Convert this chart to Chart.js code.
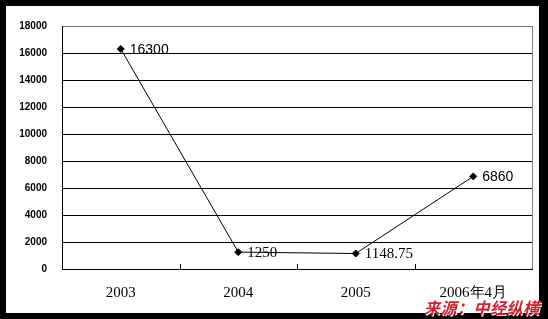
<!DOCTYPE html>
<html>
<head>
<meta charset="utf-8">
<script src="https://cdn.jsdelivr.net/npm/chart.js@4/dist/chart.umd.min.js"></script>
<style>
  body { margin: 0; background: #000; }
  #frame { position: absolute; left: 6px; top: 6px; width: 533px; height: 307px; background: #fff; }
  #wrap { position: absolute; left: 0; top: 0; width: 548px; height: 319px; }
  #source { position: absolute; left: 424px; top: 295px; font: italic bold 16px "Noto Sans CJK SC", sans-serif;
            color: #d3202c; letter-spacing: 0.5px; text-shadow: 1px 1px 0 #fff; white-space: nowrap; }
</style>
</head>
<body>
<div id="frame"></div>
<div id="wrap"><canvas id="chart" width="548" height="319"></canvas></div>
<div id="source">来源：中经纵横</div>
<script>
let years = ['2003', '2004', '2005', '2006年4月'];
let values = [16300, 1250, 1148.75, 6860];
let valueLabels = ['16300', '1250', '1148.75', '6860'];
let labelFonts = ['14px "Liberation Sans"', '15px "Liberation Serif"', '15px "Liberation Serif"', '14px "Liberation Sans"'];
let yTicks = [0, 2000, 4000, 6000, 8000, 10000, 12000, 14000, 16000, 18000];

// value labels next to each point + small inward tick marks + right border
const extras = {
    id: 'extras',
    afterDatasetsDraw(chart) {
        const ctx = chart.ctx;
        const area = chart.chartArea;
        const xs = chart.scales.x;
        ctx.save();
        ctx.strokeStyle = '#808080';
        ctx.lineWidth = 1;
        ctx.beginPath();
        ctx.moveTo(Math.round(area.right) + 0.5, area.top);
        ctx.lineTo(Math.round(area.right) + 0.5, area.bottom);
        ctx.stroke();

        ctx.strokeStyle = '#000';
        for (let i = 1; i < years.length; i++) {
            let x = Math.round((xs.getPixelForTick(i - 1) + xs.getPixelForTick(i)) / 2) + 0.5;
            ctx.beginPath();
            ctx.moveTo(x, area.bottom);
            ctx.lineTo(x, area.bottom - 5);
            ctx.stroke();
        }

        const meta = chart.getDatasetMeta(0);
        ctx.fillStyle = '#000';
        ctx.textBaseline = 'middle';
        ctx.textAlign = 'left';
        meta.data.forEach((pt, i) => {
            ctx.font = labelFonts[i];
            ctx.fillText(valueLabels[i], pt.x + 9, pt.y + 1);
        });
        ctx.restore();
    }
};

new Chart(document.getElementById('chart'), {
    type: 'line',
    data: {
        labels: years,
        datasets: [{
            data: values,
            borderColor: '#000',
            borderWidth: 1,
            pointStyle: 'rectRot',
            pointRadius: 3.5,
            pointBackgroundColor: '#000',
            pointBorderColor: '#000',
            tension: 0
        }]
    },
    options: {
        responsive: false,
        animation: false,
        layout: { padding: { top: 26, right: 16, left: 0, bottom: 0 } },
        plugins: { legend: { display: false }, tooltip: { enabled: false } },
        scales: {
            x: {
                offset: true,
                grid: { display: false },
                border: { display: true, color: '#000', width: 1 },
                ticks: { color: '#000', padding: 7, font: { family: 'Liberation Serif', size: 15 } },
                afterFit: s => { s.height = 50; }
            },
            y: {
                min: 0,
                max: 18000,
                afterBuildTicks: s => { s.ticks = yTicks.map(v => ({ value: v })); },
                grid: {
                    color: c => c.tick && c.tick.value === 18000 ? '#808080' : '#000',
                    drawTicks: false,
                    lineWidth: 1
                },
                border: { display: true, color: '#000', width: 1 },
                ticks: {
                    color: '#000', padding: 15,
                    font: { family: 'Liberation Sans', size: 10, weight: 'bold' },
                    callback: v => String(v)
                },
                afterFit: s => { s.width = 62; }
            }
        }
    },
    plugins: [extras]
});
</script>
</body>
</html>
